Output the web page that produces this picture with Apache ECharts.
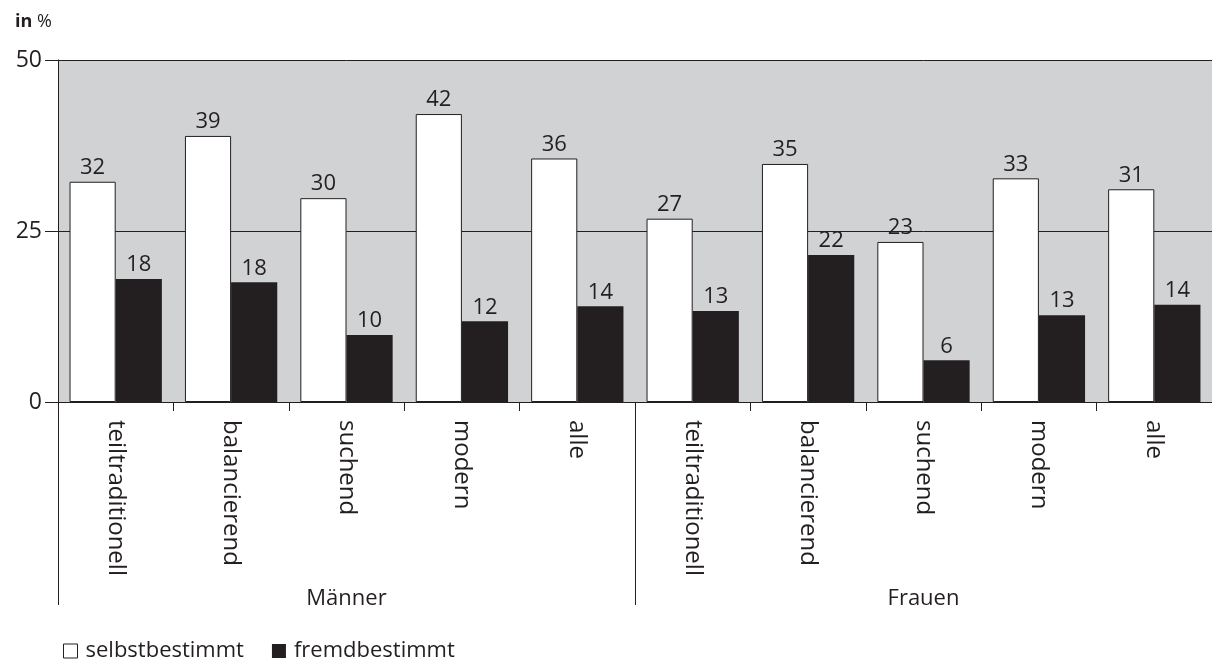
<!DOCTYPE html>
<html>
<head>
<meta charset="utf-8">
<script src="https://cdn.jsdelivr.net/npm/echarts@6/dist/echarts.min.js"></script>
<style>
  html, body { margin: 0; padding: 0; background: #fff; }
  #chart { width: 1212px; height: 668px; }
</style>
</head>
<body>
<div id="chart"></div>
<script>
// categories, two levels
var types = ['teiltraditionell', 'balancierend', 'suchend', 'modern', 'alle',
             'teiltraditionell', 'balancierend', 'suchend', 'modern', 'alle'];
var groups = ['Männer', 'Frauen'];

// values in %
var selbst = [32.2, 38.9, 29.8, 42.1, 35.6, 26.8, 34.8, 23.4, 32.7, 31.1];
var fremd  = [18.0, 17.5, 9.8, 11.8, 14.0, 13.3, 21.5, 6.1, 12.7, 14.2];

var yTicks = [0, 25, 50];

var ink = '#231f20';
var font = 'Open Sans';

var myChart = echarts.init(document.getElementById('chart'));

function rounded(p) { return Math.round(p.value); }

var option = {
  animation: false,
  textStyle: { fontFamily: font, color: ink },
  title: {
    text: '{b|in} %',
    left: 10,
    top: 8,
    textStyle: {
      fontSize: 18, fontWeight: 'normal', color: ink, fontFamily: font,
      rich: { b: { fontSize: 18, fontWeight: 'bold', color: ink, fontFamily: font } }
    }
  },
  legend: {
    left: 58,
    bottom: 1,
    itemWidth: 14,
    itemHeight: 14,
    itemGap: 28,
    icon: 'rect',
    textStyle: { fontSize: 22, color: ink, fontFamily: font, padding: [0, 0, 0, 3] },
    data: [
      { name: 'selbstbestimmt', itemStyle: { color: '#fff', borderColor: ink, borderWidth: 1 } },
      { name: 'fremdbestimmt', itemStyle: { color: ink } }
    ]
  },
  grid: {
    left: 58,
    right: -4,
    top: 60,
    height: 342,
    show: true,
    backgroundColor: '#d1d2d4',
    borderWidth: 0
  },
  xAxis: [
    {
      type: 'category',
      data: types,
      position: 'bottom',
      axisLine: { show: true, lineStyle: { color: ink, width: 1 } },
      axisTick: { show: true, length: 9, lineStyle: { color: ink } },
      axisLabel: {
        rotate: -90,
        interval: 0,
        margin: 18,
        fontSize: 24,
        color: ink
      }
    },
    {
      type: 'category',
      data: groups,
      position: 'bottom',
      offset: 0,
      axisLine: { show: false },
      axisTick: { show: true, length: 203, lineStyle: { color: ink } },
      axisLabel: { margin: 186, fontSize: 22, color: ink }
    }
  ],
  yAxis: {
    type: 'value',
    min: yTicks[0],
    max: yTicks[yTicks.length - 1],
    interval: 25,
    axisLine: { show: true, lineStyle: { color: ink } },
    axisTick: { show: true, length: 13, lineStyle: { color: ink } },
    axisLabel: { fontSize: 23, color: ink, margin: 16 },
    splitLine: { lineStyle: { color: ink, width: 1 } }
  },
  series: [
    {
      name: 'selbstbestimmt',
      type: 'bar',
      data: selbst,
      barWidth: '40%',
      barGap: '0%',
      itemStyle: { color: '#fff', borderColor: ink, borderWidth: 1 },
      label: { show: true, position: 'top', distance: 3, fontSize: 22, color: ink, formatter: rounded }
    },
    {
      name: 'fremdbestimmt',
      type: 'bar',
      data: fremd,
      barWidth: '40%',
      itemStyle: { color: ink },
      label: { show: true, position: 'top', distance: 3, fontSize: 22, color: ink, formatter: rounded }
    }
  ]
};

myChart.setOption(option);
</script>
</body>
</html>
